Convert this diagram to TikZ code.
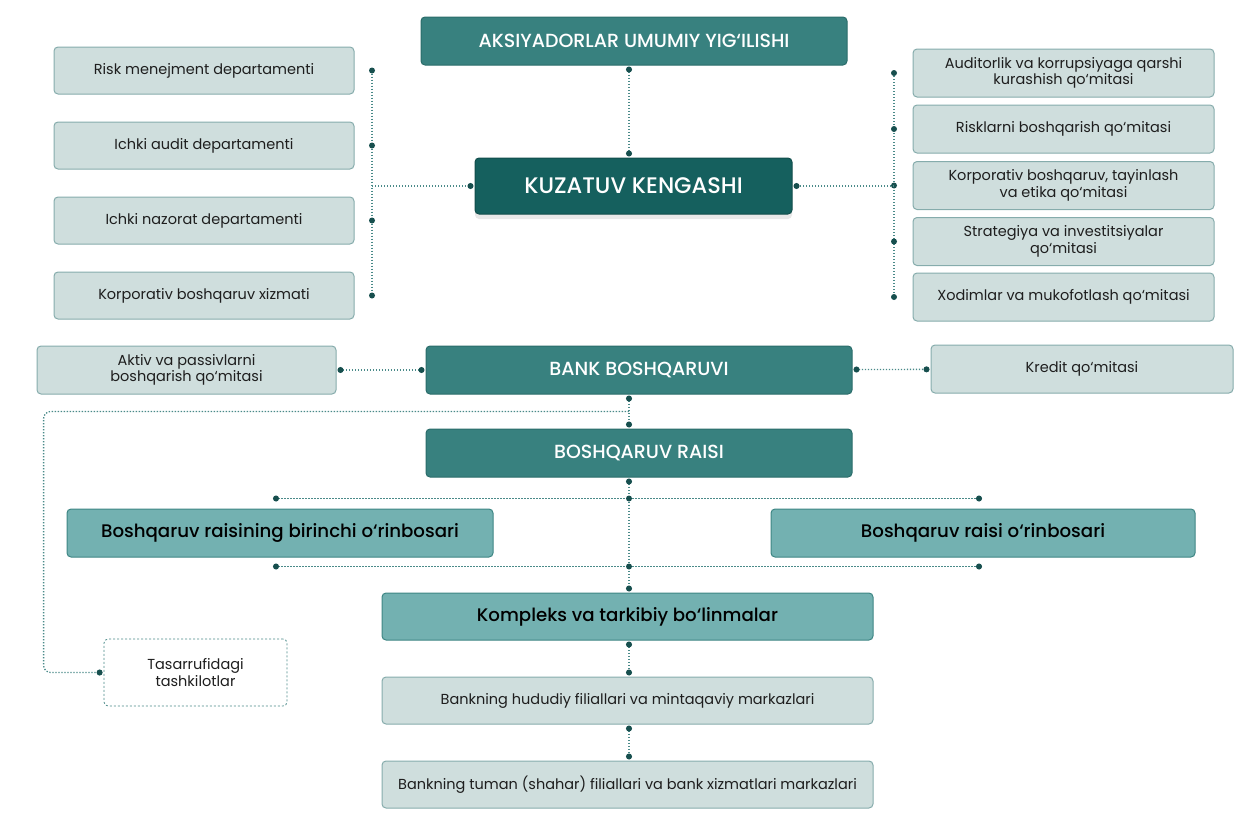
\documentclass[tikz,border=0pt]{standalone}
\usepackage{fontspec}
\setmainfont{Poppins}
\newfontfamily\medfont{Poppins Medium}
\usetikzlibrary{arrows.meta,shadows}

\definecolor{darkteal}{HTML}{38817F}
\definecolor{darkline}{HTML}{2A6C6A}
\definecolor{boardteal}{HTML}{15605E}
\definecolor{midteal}{HTML}{73B1B1}
\definecolor{midline}{HTML}{3E8684}
\definecolor{lightfill}{HTML}{CFDEDD}
\definecolor{lightline}{HTML}{86ACAC}
\definecolor{linec}{HTML}{4A8A89}
\definecolor{dotc}{HTML}{174F4E}
\definecolor{txt}{HTML}{1E1E1E}

\begin{document}
\begin{tikzpicture}[x=1pt, y=-1pt,
  box/.style={rounded corners=4pt, line width=1pt, minimum height=48pt, inner sep=2pt, align=center},
  light/.style={box, fill=lightfill, draw=lightline, text=txt, font=\fontsize{14.5}{16.5}\selectfont},
  head/.style={box, fill=darkteal, draw=darkline, text=white, font=\medfont\fontsize{19}{22}\selectfont},
  sub/.style={box, fill=midteal, draw=midline, text=black, font=\medfont\fontsize{18.2}{21}\selectfont},
  line/.style={draw=linec, line width=1.3pt, dash pattern=on 1.3pt off 1.7pt},
  link/.style={line, <->, >={Circle[length=6pt,width=6pt,color=dotc]}, shorten <=1pt, shorten >=1pt},
  linkend/.style={line, ->, >={Circle[length=6pt,width=6pt,color=dotc]}, shorten >=1pt},
  jdot/.style={circle, fill=dotc, inner sep=0pt, minimum size=6pt}
]
\useasboundingbox (0,0) rectangle (1256,822);

% spines
\coordinate (lsp) at (372,0);
\coordinate (rsp) at (894,0);
\coordinate (msp) at (629,0);

\node[head, minimum width=426pt] (gms) at (634,41) {AKSIYADORLAR UMUMIY YIG‘ILISHI};
\node[box, fill=boardteal, draw=boardteal!80!black, text=white, minimum width=317pt, minimum height=56pt,
  font=\medfont\fontsize{22.5}{26}\selectfont,
  drop shadow={shadow xshift=0pt, shadow yshift=-5pt, opacity=0.18}] (kuzat) at (633.5,186) {KUZATUV KENGASHI};

\node[light, minimum width=300pt, minimum height=47pt] (risk) at (204,70.5) {Risk menejment departamenti};
\node[light, minimum width=300pt, minimum height=47pt] (audit) at (204,145.5) {Ichki audit departamenti};
\node[light, minimum width=300pt, minimum height=47pt] (nazorat) at (204,220.5) {Ichki nazorat departamenti};
\node[light, minimum width=300pt, minimum height=47pt] (korp) at (204,295.5) {Korporativ boshqaruv xizmati};

\node[light, minimum width=301pt] (auditq) at (1063.5,73) {Auditorlik va korrupsiyaga qarshi\\kurashish qo‘mitasi};
\node[light, minimum width=301pt] (riskq) at (1063.5,129) {Risklarni boshqarish qo‘mitasi};
\node[light, minimum width=301pt] (korpq) at (1063.5,185.5) {Korporativ boshqaruv, tayinlash\\va etika qo‘mitasi};
\node[light, minimum width=301pt] (strat) at (1063.5,241.5) {Strategiya va investitsiyalar\\qo‘mitasi};
\node[light, minimum width=301pt] (xodim) at (1063.5,297) {Xodimlar va mukofotlash qo‘mitasi};

\node[light, minimum width=299pt] (aktiv) at (186.5,370) {Aktiv va passivlarni\\boshqarish qo‘mitasi};
\node[head, minimum width=426pt] (bank) at (639,370) {BANK BOSHQARUVI};
\node[light, minimum width=302pt] (kredit) at (1082,369) {Kredit qo‘mitasi};
\node[head, minimum width=426pt] (raisi) at (639,453) {BOSHQARUV RAISI};

\node[sub, minimum width=426pt] (birinchi) at (280,533) {Boshqaruv raisining birinchi o‘rinbosari};
\node[sub, minimum width=424pt] (orinbosar) at (983,533) {Boshqaruv raisi o‘rinbosari};
\node[sub, minimum width=491pt, minimum height=47pt] (kompleks) at (627.5,616.5) {Kompleks va tarkibiy bo‘linmalar};
\node[light, minimum width=491pt, minimum height=47pt] (hudud) at (627.5,700.5) {Bankning hududiy filiallari va mintaqaviy markazlari};
\node[light, minimum width=491pt, minimum height=47pt] (tuman) at (627.5,784.5) {Bankning tuman (shahar) filiallari va bank xizmatlari markazlari};
\node[light, fill=white, draw=linec, line width=0.8pt, dash pattern=on 2pt off 2pt,
  minimum width=183pt, minimum height=67pt] (tasarruf) at (195.5,672.5) {Tasarrufidagi\\tashkilotlar};

% top part
\draw[link] (gms.south -| msp) -- (kuzat.north -| msp);
\draw[line] (risk -| lsp) -- (korp -| lsp);
\foreach \n in {risk,audit,nazorat,korp} \node[jdot] at (\n -| lsp) {};
\draw[linkend] (kuzat -| lsp) -- (kuzat.west);
\draw[line] (auditq -| rsp) -- (xodim -| rsp);
\foreach \n in {auditq,riskq,korpq,strat,xodim} \node[jdot] at (\n -| rsp) {};
\draw[linkend] (kuzat -| rsp) -- (kuzat.east);

% management
\path[link] (aktiv) edge (bank) (bank) edge (kredit);
\draw[link] (bank.south -| msp) -- (raisi.north -| msp);
\coordinate (fork) at ([yshift=-17pt]bank.south -| msp);
\draw[linkend, rounded corners=7pt] (fork) -| ([xshift=-60pt]tasarruf.west) -- (tasarruf.west);

\coordinate (t1) at ([shift={(-8,-10)}]birinchi.north);
\coordinate (t2) at ([shift={(0,-10)}]orinbosar.north);
\coordinate (b1) at ([shift={(-8,9)}]birinchi.south);
\coordinate (b2) at ([shift={(0,9)}]orinbosar.south);
\draw[link] (t1) -- (t2);
\draw[link] (b1) -- (b2);
\draw[link] (raisi.south -| msp) -- (kompleks.north -| msp);
\node[jdot] at (t1 -| msp) {};
\node[jdot] at (b1 -| msp) {};
\draw[link] (kompleks.south -| msp) -- (hudud.north -| msp);
\draw[link] (hudud.south -| msp) -- (tuman.north -| msp);
\end{tikzpicture}
\end{document}
